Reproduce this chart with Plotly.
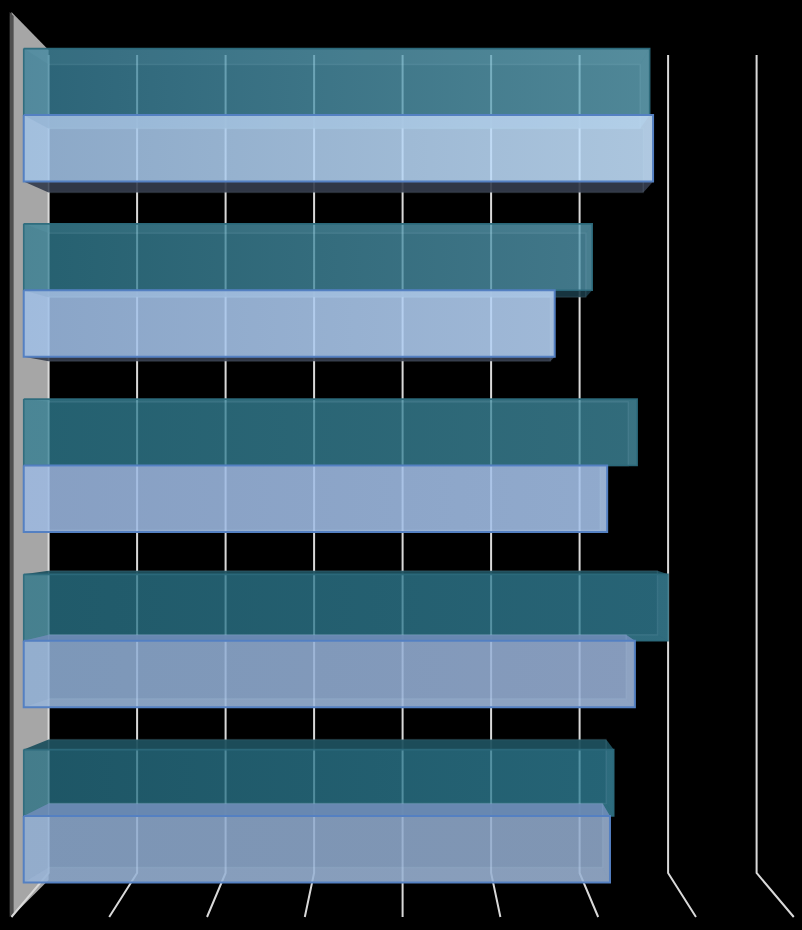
import plotly.graph_objects as go

# values, grid step = 1
slots = [0, 1, 2, 3, 4]
teal_values = [6.684, 6.07, 6.55, 6.88, 6.30]
blue_values = [6.72, 5.67, 6.23, 6.526, 6.26]
grid_values = [0, 1, 2, 3, 4, 5, 6, 7, 8]

# front face colours per bar, left end and right end
teal_left = [(44, 100, 120), (38, 96, 112), (36, 96, 112), (32, 90, 106), (30, 86, 102)]
teal_right = [(80, 135, 152), (66, 120, 138), (50, 108, 124), (40, 100, 118), (38, 100, 118)]
blue_left = [(140, 168, 200), (138, 165, 200), (135, 160, 195), (125, 152, 185), (125, 150, 182)]
blue_right = [(172, 198, 222), (160, 185, 215), (145, 170, 205), (134, 155, 188), (128, 150, 180)]

BAR_H = 0.379
TEAL_ALPHA = 0.78
BLUE_ALPHA = 0.87
VX, KX = 4.83, 0.055   # vanishing point and depth of the bars
VY, KY = 2.071, 0.037
FLOOR = 1.105


def yp(px):
    return (px - 115) / 175.25


def rgba(c, a):
    return "rgba(%d,%d,%d,%.3f)" % (min(255, c[0] / a), min(255, c[1] / a), min(255, c[2] / a), a)


def poly(fig, xs, ys, fill, line=None, width=0):
    fig.add_trace(go.Scatter(x=xs + xs[:1], y=ys + ys[:1], mode="lines", fill="toself", fillcolor=fill,
                             line=dict(color=line or "rgba(0,0,0,0)", width=width), hoverinfo="skip"))


def draw_bar(fig, value, top, left_col, right_col, alpha, edge, shade, lit, inner):
    bot = top + BAR_H
    # value sits on the back plane, the front face is pulled out of it
    x0 = (0 - KX * VX) / (1 - KX)
    x1 = (value - KX * VX) / (1 - KX)
    t2 = top + (VY - top) * KY
    b2 = bot + (VY - bot) * KY

    fig.add_trace(go.Scatter(x=[x0, x1, x1, x0, x0], y=[top, top, bot, bot, top], mode="lines", fill="toself",
                             fillgradient=dict(type="horizontal",
                                               colorscale=[[0, rgba(left_col, alpha)], [1, rgba(right_col, alpha)]]),
                             line=dict(color="rgba(0,0,0,0)", width=0), hoverinfo="skip"))
    # side faces
    poly(fig, [x0, 0, 0, x0], [top, t2, b2, bot], "rgba(255,255,255,0.015)")
    poly(fig, [x1, value, value, x1], [top, t2, b2, bot], inner)
    poly(fig, [x0, x1, value, 0], [top, top, t2, t2], lit if t2 < top else inner)
    poly(fig, [x0, x1, value, 0], [bot, bot, b2, b2], shade if b2 > bot else inner)
    # back edge and front edge
    fig.add_trace(go.Scatter(x=[0, value, value, 0, 0], y=[t2, t2, b2, b2, t2], mode="lines",
                             line=dict(color="rgba(205,228,255,0.09)", width=1.5), hoverinfo="skip"))
    fig.add_trace(go.Scatter(x=[x0, x1, x1, x0, x0], y=[top, top, bot, bot, top], mode="lines",
                             line=dict(color=edge, width=2 if alpha == BLUE_ALPHA else 1.6), hoverinfo="skip"))


fig = go.Figure()

# side wall
wall_front = 4 + (0 - 4) * FLOOR
poly(fig, [wall_front, 0, 0, wall_front], [yp(12), yp(50), yp(880), yp(917)], "#a6a6a6")
poly(fig, [wall_front - 0.02, wall_front + 0.025, wall_front + 0.025, wall_front - 0.02],
     [yp(12), yp(16), yp(913), yp(917)], "#4f4f4f")

# grid lines run up the back and out over the floor
for v in grid_values:
    fig.add_trace(go.Scatter(x=[v, v, 4 + (v - 4) * FLOOR], y=[yp(55), yp(873), yp(917)], mode="lines",
                             line=dict(color="#d9d9d9", width=2), hoverinfo="skip"))

for i in slots:
    draw_bar(fig, teal_values[i], i - BAR_H, teal_left[i], teal_right[i], TEAL_ALPHA, "rgba(44,106,124,0.95)",
             "rgba(26,58,70,0.9)", "rgba(30,80,94,0.95)", "rgba(190,240,250,0.06)")
    draw_bar(fig, blue_values[i], i, blue_left[i], blue_right[i], BLUE_ALPHA, "#5480c2",
             "rgba(52,60,76,0.92)", "rgba(108,138,180,0.95)", "rgba(215,232,255,0.10)")

fig.update_layout(width=802, height=930, autosize=False, showlegend=False,
                  paper_bgcolor="#000000", plot_bgcolor="#000000",
                  margin=dict(l=0, r=0, t=0, b=0))
fig.update_xaxes(range=[-48.6 / 88.5, (802 - 48.6) / 88.5], visible=False, showgrid=False, zeroline=False)
fig.update_yaxes(range=[yp(930), yp(0)], visible=False, showgrid=False, zeroline=False)

fig.write_html("out.html", config=dict(displayModeBar=False),
               post_script="document.body.style.margin='0';")
